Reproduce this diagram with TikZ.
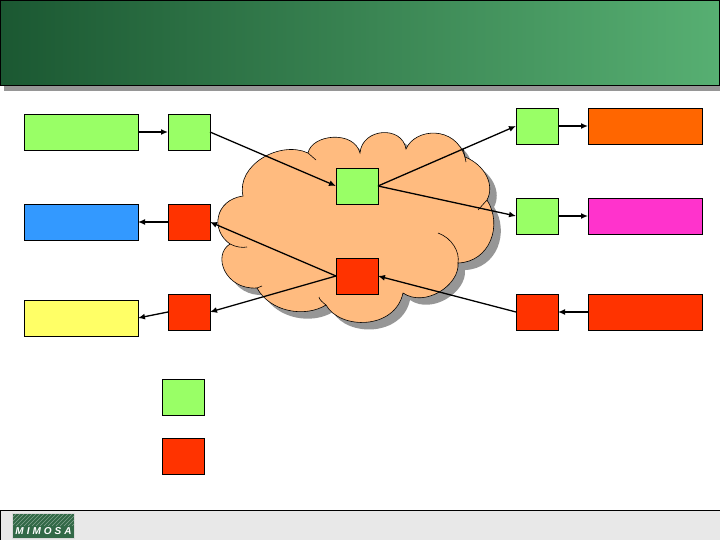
\documentclass[tikz,border=0pt]{standalone}
\usepackage{fontspec}
\usepackage{xcolor}
\usepackage{tikz}
\usetikzlibrary{arrows.meta, positioning}
\newfontfamily\logofont[LetterSpace=30]{Liberation Sans}
\definecolor{leaf}{RGB}{153,255,102}
\definecolor{flame}{RGB}{255,51,0}
\definecolor{sky}{RGB}{51,153,255}
\definecolor{lemon}{RGB}{255,255,102}
\definecolor{tangerine}{RGB}{255,102,0}
\definecolor{fuchsia}{RGB}{255,51,204}
\definecolor{peach}{RGB}{255,187,127}
\definecolor{pine}{RGB}{27,88,50}
\definecolor{fern}{RGB}{87,175,114}
\definecolor{shadowgray}{RGB}{150,150,150}
\definecolor{footgray}{RGB}{232,232,232}
\newcommand{\cloudoutline}{(243,196) .. controls (236,165) and (280,140) .. (308,153)
  .. controls (312,134) and (354,130) .. (360,153)
  .. controls (362,128) and (402,125) .. (406,149)
  .. controls (415,128) and (455,125) .. (465,157)
  .. controls (485,165) and (495,185) .. (487,200)
  .. controls (503,225) and (490,262) .. (458,263)
  .. controls (460,285) and (425,308) .. (403,293)
  .. controls (395,330) and (340,330) .. (326,305)
  .. controls (305,318) and (270,312) .. (257,288)
  .. controls (225,290) and (212,255) .. (230,244)
  .. controls (210,230) and (215,200) .. (243,196) -- cycle}

\begin{document}
\begin{tikzpicture}[
    x=1pt, y=-1pt,
    inner sep=0pt, outer sep=0pt,
    wide/.style={rectangle, draw=black, line width=0.8pt, minimum width=114pt, minimum height=36pt},
    tag/.style={rectangle, draw=black, line width=0.8pt, minimum width=42pt, minimum height=36pt},
    good/.style={tag, fill=leaf},
    bad/.style={tag, fill=flame},
    arr/.style={-{Latex[length=7pt,width=6pt]}, line width=1.3pt, black}
]
\useasboundingbox (0,0) rectangle (720,540);

% banner
\fill[shadowgray] (4,5) rectangle (720,91);
\node[rectangle, draw=black, line width=0.8pt, left color=pine, right color=fern, minimum width=719pt, minimum height=85pt, anchor=north west] (banner) at (0.5,0.5) {};

% footer
\node[rectangle, draw=black, line width=0.8pt, fill=footgray, minimum width=720pt, minimum height=31pt, anchor=north west] (footer) at (0.5,510) {};
\node[rectangle, draw=white!85!black, line width=0.8pt, fill=pine!90!white, minimum width=62pt, minimum height=25pt, anchor=north west] (logo) at (12.5,513.5) {};
\begin{scope}
\clip (13,514) rectangle (74,525);
\foreach \i in {0,4,...,76}
  \draw[pine!55!white, line width=0.7pt] (\i,526) -- (\i+12,514);
\end{scope}
\node[text=white, font=\logofont\bfseries\itshape\fontsize{10}{10}\selectfont] (logotext) at (43.5,531) {MIMOSA};

% cloud
\fill[shadowgray, shift={(7,7)}] \cloudoutline;
\draw[fill=peach, line width=0.6pt] \cloudoutline;
\draw[line width=0.6pt] (308,153) -- (316,160);
\draw[line width=0.6pt] (463,148) -- (466,162);
\draw[line width=0.6pt] (487,200) -- (478,210);
\draw[line width=0.6pt] (438,233) .. controls (452,238) and (460,252) .. (458,263);
\draw[line width=0.6pt] (257,288) -- (262,286);
\draw[line width=0.6pt] (230,244) .. controls (236,247) and (242,248) .. (247,247);
\draw[line width=0.6pt] (326,305) .. controls (322,302) and (319,299) .. (319,297);

\node[wide, fill=leaf] (feedgreen) at (81,132) {};
\node[wide, fill=sky, below=54pt of feedgreen] (feedblue) {};
\node[wide, fill=lemon, below=60pt of feedblue] (feedyellow) {};

\node[good, right=30pt of feedgreen] (intag) {};
\node[bad, right=30pt of feedblue] (outtagone) {};
\node[bad] (outtagtwo) at (189,312) {};

\node[good] (hubgreen) at (357,186) {};
\node[bad, below=54pt of hubgreen] (hubred) {};

\node[good] (rtagone) at (537,126) {};
\node[good, below=54pt of rtagone] (rtagtwo) {};
\node[bad, below=60pt of rtagtwo] (rtagthree) {};

\node[wide, fill=tangerine, right=30pt of rtagone] (sinkorange) {};
\node[wide, fill=fuchsia, right=30pt of rtagtwo] (sinkpink) {};
\node[wide, fill=flame, right=30pt of rtagthree] (sinkred) {};

\node[good] (keygreen) at (183,397) {};
\node[bad] (keyred) at (183,456) {};

\draw[arr] (feedgreen) -- (intag);
\draw[arr] (outtagone) -- (feedblue);
\draw[arr] (outtagtwo.west) -- (feedyellow.east);
\draw[arr] (intag.east) -- (hubgreen.west);
\draw[arr] (hubred.west) -- (outtagone.east);
\draw[arr] (hubred.west) -- (outtagtwo.east);
\draw[arr] (hubgreen.east) -- (rtagone.west);
\draw[arr] (hubgreen.east) -- (rtagtwo.west);
\draw[arr] (rtagthree.west) -- (hubred.east);
\draw[arr] (rtagone) -- (sinkorange);
\draw[arr] (rtagtwo) -- (sinkpink);
\draw[arr] (sinkred) -- (rtagthree);

\end{tikzpicture}
\end{document}
